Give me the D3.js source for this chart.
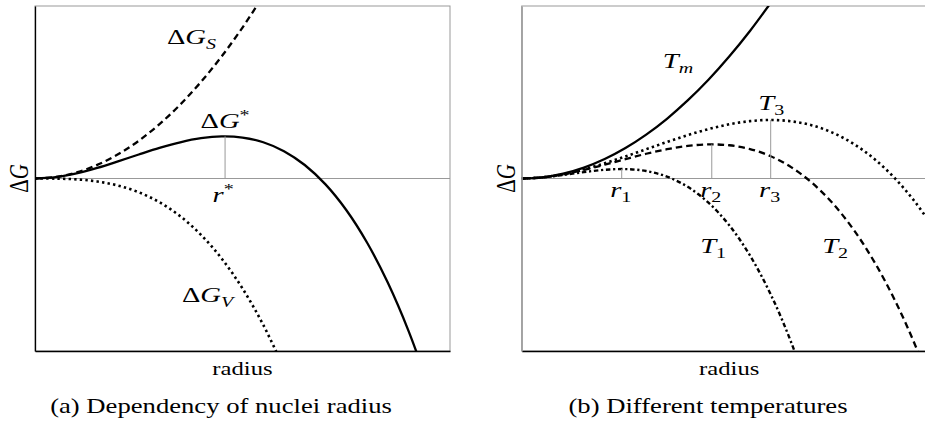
<!DOCTYPE html>
<html>
<head>
<meta charset="utf-8">
<script src="https://cdn.jsdelivr.net/npm/d3@7"></script>
<style>
  body { margin: 0; background: #fff; }
  text { font-family: "Liberation Serif", "Times New Roman", serif; fill: #000; }
</style>
</head>
<body>
<svg id="chart"></svg>
<script>
// ---- data ----
// (a) nucleation energy vs radius
var radiusA = [0, 0.5, 1, 1.5, 2, 2.5, 3, 3.5, 4, 4.5, 5, 5.5, 6, 6.5, 7, 7.5, 8, 8.5, 9, 9.5];
var dGSurface = [0, 0.035, 0.14, 0.315, 0.56, 0.875, 1.26, 1.715, 2.24, 2.835, 3.5, 4.235,
                 null, null, null, null, null, null, null, null];
var dGVolume = [0, -0.003, -0.02, -0.069, -0.163, -0.319, -0.551, -0.875, -1.306, -1.859, -2.55, -3.394,
                -4.406, null, null, null, null, null, null, null];
var dGTotal = [0, 0.032, 0.12, 0.246, 0.397, 0.556, 0.709, 0.84, 0.934, 0.976, 0.95, 0.841,
               0.634, 0.313, -0.137, -0.731, -1.485, -2.413, -3.532, -4.86];
var rStar = 4.58, dGStar = 0.977;

// (b) different temperatures
var radiusB = [0, 0.5, 1, 1.5, 2, 2.5, 3, 3.5, 4, 4.5, 5, 5.5, 6, 6.5, 7, 7.5, 8, 8.5, 9, 9.5, 10];
var gTm = [0, 0.028, 0.113, 0.254, 0.452, 0.707, 1.018, 1.385, 1.81, 2.29, 2.828, 3.421, 4.072,
           null, null, null, null, null, null, null, null];
var gT1 = [0, 0.024, 0.082, 0.149, 0.202, 0.218, 0.173, 0.044, -0.193, -0.561, -1.083, -1.785, -2.687,
           -3.815, -5.19, null, null, null, null, null, null];
var gT2 = [0, 0.026, 0.097, 0.199, 0.321, 0.45, 0.574, 0.679, 0.757, 0.79, 0.771, 0.683, 0.517,
           0.258, -0.104, -0.582, -1.19, -1.938, -2.838, -3.906, -5.15];
var gT3 = [0, 0.027, 0.101, 0.212, 0.352, 0.511, 0.679, 0.846, 1.006, 1.145, 1.257, 1.33, 1.357,
           1.326, 1.231, 1.059, 0.802, 0.451, -0.003, -0.57, -1.26];
var rCrit = [2.41, 4.58, 6.0];
var gCrit = [0.219, 0.791, 1.357];
var critNames = ["1", "2", "3"];

var captions = ["(a) Dependency of nuclei radius", "(b) Different temperatures"];

// ---- layout ----
var W = 925, H = 421;
var SX = 1.3;           // reference glyphs are stretched horizontally
var plotW = 415, plotTop = 6, plotBottom = 351;
var gray = "#999";

var svg = d3.select("#chart").attr("width", W).attr("height", H);
svg.append("rect").attr("width", W).attr("height", H).attr("fill", "#fff");

function mathText(g, x, y, parts, anchor, size) {
    size = size || 22;
    var t = g.append("text")
        .attr("transform", "translate(" + x + "," + y + ") scale(" + SX + ",1)")
        .attr("text-anchor", anchor || "start")
        .attr("font-size", size);
    parts.forEach(function (p) {
        var ts = t.append("tspan").text(p.t);
        if (p.it) ts.attr("font-style", "italic");
        if (p.sub) ts.attr("font-size", size * 0.7).attr("dy", size * 0.22);
        if (p.sup) ts.attr("font-size", size * 0.7).attr("dy", -size * 0.38);
    });
    return t;
}

function panel(id, x0, leftColor) {
    var x = d3.scaleLinear().domain([0, 10]).range([x0, x0 + plotW]);
    var y = d3.scaleLinear().domain([-4, 4]).range([plotBottom, plotTop]);
    var g = svg.append("g");

    g.append("clipPath").attr("id", "clip" + id)
      .append("rect").attr("x", x0).attr("y", plotTop).attr("width", plotW).attr("height", plotBottom - plotTop);

    // frame
    g.append("rect").attr("x", x0).attr("y", plotTop).attr("width", plotW).attr("height", plotBottom - plotTop)
        .attr("fill", "none").attr("stroke", gray).attr("stroke-width", 1);
    // zero line
    g.append("line").attr("x1", x0).attr("x2", x0 + plotW).attr("y1", y(0)).attr("y2", y(0))
        .attr("stroke", gray).attr("stroke-width", 1);

    var plot = g.append("g").attr("clip-path", "url(#clip" + id + ")");

    // axes without ticks
    g.append("g").attr("transform", "translate(0," + plotBottom + ")")
        .call(d3.axisBottom(x).tickValues([]).tickSizeOuter(0))
        .select(".domain").attr("stroke", "#000").attr("stroke-width", 1.3);
    g.append("g").attr("transform", "translate(" + x0 + ",0)")
        .call(d3.axisLeft(y).tickValues([]).tickSizeOuter(0))
        .select(".domain").attr("stroke", leftColor).attr("stroke-width", 1.3);

    // axis labels
    mathText(g, x0 - 7, (plotTop + plotBottom) / 2, [{ t: "Δ" }, { t: "G", it: true }], "middle", 21)
        .attr("transform", "translate(" + (x0 - 7) + "," + ((plotTop + plotBottom) / 2) + ") scale(" + SX + ",1) rotate(-90)");
    g.append("text")
        .attr("transform", "translate(" + (x0 + plotW / 2) + ",375) scale(" + SX + ",1)")
        .attr("text-anchor", "middle").attr("font-size", 19).text("radius");

    return { x: x, y: y, g: g, plot: plot };
}

function drawCurve(p, xs, ys, dash, width) {
    var pts = xs.map(function (r, i) { return [r, ys[i]]; });
    var line = d3.line()
        .defined(function (d) { return d[1] !== null; })
        .x(function (d) { return p.x(d[0]); })
        .y(function (d) { return p.y(d[1]); })
        .curve(d3.curveCatmullRom);
    p.plot.append("path").datum(pts)
        .attr("d", line)
        .attr("fill", "none")
        .attr("stroke", "#000")
        .attr("stroke-width", width || 2.3)
        .attr("stroke-dasharray", dash || null);
}

var DASHED = "6.5,4", DOTTED = "2.4,3.2", DASHDOT = "4.5,2.7,2.2,2.7";

// ---- panel (a) ----
var a = panel("a", 35, "#000");
a.g.append("line")
    .attr("x1", a.x(rStar)).attr("x2", a.x(rStar))
    .attr("y1", a.y(0)).attr("y2", a.y(dGStar))
    .attr("stroke", gray).attr("stroke-width", 1);
drawCurve(a, radiusA, dGSurface, DASHED);
drawCurve(a, radiusA, dGVolume, DOTTED, 2.6);
drawCurve(a, radiusA, dGTotal, null);

mathText(a.g, a.x(3.18), a.y(3.11), [{ t: "Δ" }, { t: "G", it: true }, { t: "S", it: true, sub: true }]);
mathText(a.g, a.x(rStar), a.y(1.17), [{ t: "Δ" }, { t: "G", it: true }, { t: "*", sup: true }], "middle");
mathText(a.g, a.x(rStar) - 2, 202, [{ t: "r", it: true }, { t: "*", sup: true }], "middle");
mathText(a.g, a.x(3.54), a.y(-2.86), [{ t: "Δ" }, { t: "G", it: true }, { t: "V", it: true, sub: true }]);

svg.append("text")
    .attr("transform", "translate(221,413) scale(" + SX + ",1)")
    .attr("text-anchor", "middle").attr("font-size", 20.5).text(captions[0]);

// ---- panel (b) ----
var b = panel("b", 521.7, gray);
rCrit.forEach(function (r, i) {
    b.g.append("line")
        .attr("x1", b.x(r)).attr("x2", b.x(r))
        .attr("y1", b.y(0)).attr("y2", b.y(gCrit[i]))
        .attr("stroke", gray).attr("stroke-width", 1);
    mathText(b.g, b.x(r) - 1, 197, [{ t: "r", it: true }, { t: critNames[i], sub: true }], "middle");
});
drawCurve(b, radiusB, gTm, null);
drawCurve(b, radiusB, gT3, DOTTED, 2.6);
drawCurve(b, radiusB, gT2, DASHED);
drawCurve(b, radiusB, gT1, DASHDOT, 2.4);

mathText(b.g, b.x(3.4), b.y(2.56), [{ t: "T", it: true }, { t: "m", it: true, sub: true }]);
mathText(b.g, b.x(5.7), b.y(1.59), [{ t: "T", it: true }, { t: "3", sub: true }]);
mathText(b.g, b.x(4.3), b.y(-1.73), [{ t: "T", it: true }, { t: "1", sub: true }]);
mathText(b.g, b.x(7.24), b.y(-1.73), [{ t: "T", it: true }, { t: "2", sub: true }]);

svg.append("text")
    .attr("transform", "translate(708,413) scale(" + SX + ",1)")
    .attr("text-anchor", "middle").attr("font-size", 20.5).text(captions[1]);
</script>
</body>
</html>
